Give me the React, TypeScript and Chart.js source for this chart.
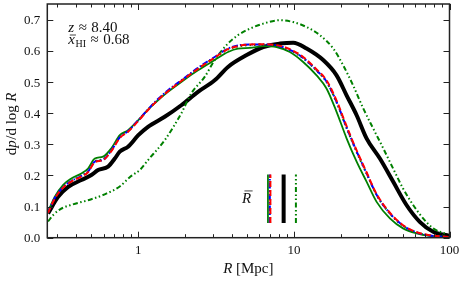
import React, { useEffect, useRef } from "react";
import { Chart, registerables } from "chart.js";
Chart.register(...registerables);

const FONT = "'Liberation Serif', 'Times New Roman', serif";

// ---- data ----
const R_CLUSTER = [0.263, 0.29, 0.328, 0.371, 0.43, 0.475, 0.525, 0.593, 0.671, 0.76, 0.859, 1.0, 1.154, 1.338, 1.552, 1.888, 2.418, 3.095, 3.77, 4.37, 5.21, 6.35, 7.74, 9.42, 11.47, 13.99, 16.2, 18.8, 21.8, 25.3, 29.3, 34.0, 41.4, 50.3, 61.4, 74.7, 100];
const V_GREEN = [0.083, 0.131, 0.169, 0.19, 0.206, 0.222, 0.254, 0.26, 0.287, 0.329, 0.345, 0.377, 0.411, 0.441, 0.468, 0.5, 0.537, 0.57, 0.596, 0.607, 0.609, 0.615, 0.612, 0.596, 0.564, 0.521, 0.479, 0.404, 0.319, 0.244, 0.18, 0.115, 0.062, 0.03, 0.014, 0.006, 0.002];
const V_RED = [0.08, 0.125, 0.16, 0.18, 0.196, 0.21, 0.242, 0.249, 0.278, 0.32, 0.34, 0.375, 0.41, 0.442, 0.47, 0.503, 0.542, 0.578, 0.605, 0.615, 0.62, 0.621, 0.618, 0.605, 0.58, 0.54, 0.505, 0.44, 0.358, 0.28, 0.21, 0.14, 0.08, 0.04, 0.018, 0.008, 0.002];
const V_BLUE = [0.081, 0.127, 0.162, 0.182, 0.198, 0.212, 0.244, 0.25, 0.28, 0.322, 0.342, 0.377, 0.412, 0.445, 0.473, 0.505, 0.545, 0.58, 0.607, 0.617, 0.62, 0.62, 0.617, 0.603, 0.577, 0.537, 0.501, 0.436, 0.354, 0.277, 0.207, 0.138, 0.078, 0.039, 0.017, 0.007, 0.002];
const V_GREEN_DOT = [0.081, 0.128, 0.163, 0.183, 0.199, 0.213, 0.245, 0.252, 0.281, 0.323, 0.342, 0.376, 0.411, 0.443, 0.471, 0.503, 0.543, 0.578, 0.604, 0.614, 0.618, 0.619, 0.616, 0.602, 0.576, 0.536, 0.5, 0.434, 0.352, 0.275, 0.206, 0.137, 0.077, 0.038, 0.017, 0.007, 0.002];

const R_BLACK = [0.263, 0.305, 0.354, 0.43, 0.499, 0.551, 0.639, 0.706, 0.76, 0.859, 1.0, 1.154, 1.478, 1.888, 2.418, 3.095, 3.77, 4.97, 6.35, 8.13, 9.9, 12.07, 15.42, 18.8, 21.8, 25.3, 29.3, 35.7, 43.4, 52.9, 64.4, 78.5, 100];
const V_BLACK = [0.078, 0.131, 0.163, 0.185, 0.201, 0.217, 0.228, 0.254, 0.276, 0.292, 0.329, 0.356, 0.388, 0.425, 0.468, 0.505, 0.548, 0.586, 0.612, 0.623, 0.626, 0.607, 0.57, 0.521, 0.457, 0.393, 0.319, 0.254, 0.18, 0.105, 0.051, 0.019, 0.006];

const R_DASHDOT = [0.263, 0.284, 0.314, 0.38, 0.489, 0.627, 0.763, 0.884, 1.025, 1.154, 1.478, 1.888, 2.19, 2.67, 3.095, 3.77, 4.37, 4.97, 6.35, 8.13, 9.9, 12.07, 14.69, 17.9, 20.7, 24.0, 27.9, 32.3, 37.5, 43.4, 50.3, 58.4, 67.7, 78.5, 95.7];
const V_DASHDOT = [0.052, 0.073, 0.091, 0.107, 0.122, 0.142, 0.165, 0.195, 0.218, 0.249, 0.313, 0.399, 0.463, 0.516, 0.57, 0.623, 0.65, 0.666, 0.687, 0.698, 0.692, 0.676, 0.65, 0.607, 0.554, 0.489, 0.415, 0.351, 0.287, 0.222, 0.158, 0.105, 0.062, 0.03, 0.011];

// mean radii R-bar for each model
const RBAR_GREEN = 6.81;
const RBAR_RED = 7.06;
const RBAR_BLUE = 7.0;
const RBAR_GREEN_DOT = 7.03;
const RBAR_BLACK = 8.59;
const RBAR_DASHDOT = 10.3;
const RBAR_Y = [0.047, 0.203];

const X_MAJOR = [1, 10, 100];
const X_MINOR = [0.3, 0.4, 0.5, 0.6, 0.7, 0.8, 0.9, 2, 3, 4, 5, 6, 7, 8, 9, 20, 30, 40, 50, 60, 70, 80, 90];
const Y_TICKS = [0, 0.1, 0.2, 0.3, 0.4, 0.5, 0.6, 0.7];
const X_RANGE = [0.26, 100];
const Y_RANGE = [0, 0.75];

const Z_TEXT = "8.40";
const XHI_TEXT = "0.68";

type Series = { xs: number[]; ys: number[]; rbar: number; color: string; width: number; dash: number[] };

const SERIES: Series[] = [
  { xs: R_CLUSTER, ys: V_RED, rbar: RBAR_RED, color: "#ff0000", width: 2, dash: [6, 3] },
  { xs: R_CLUSTER, ys: V_BLUE, rbar: RBAR_BLUE, color: "#0000ff", width: 2, dash: [6, 2, 1.5, 2] },
  { xs: R_CLUSTER, ys: V_GREEN_DOT, rbar: RBAR_GREEN_DOT, color: "#008000", width: 2, dash: [1.5, 3] },
  { xs: R_CLUSTER, ys: V_GREEN, rbar: RBAR_GREEN, color: "#008000", width: 1.8, dash: [] },
  { xs: R_DASHDOT, ys: V_DASHDOT, rbar: RBAR_DASHDOT, color: "#008000", width: 2, dash: [5, 2.5, 1.5, 2.5, 1.5, 2.5] },
  { xs: R_BLACK, ys: V_BLACK, rbar: RBAR_BLACK, color: "#000000", width: 4, dash: [] },
];

type Run = { t: string; f: string; dy?: number; gap?: number };

function runsWidth(ctx: CanvasRenderingContext2D, runs: Run[]) {
  let w = 0;
  for (const r of runs) {
    ctx.font = r.f;
    w += ctx.measureText(r.t).width + (r.gap || 0);
  }
  return w;
}
function drawRuns(ctx: CanvasRenderingContext2D, runs: Run[], x: number, y: number) {
  let cx = x;
  const pos: number[] = [];
  for (const r of runs) {
    ctx.font = r.f;
    pos.push(cx);
    ctx.fillText(r.t, cx, y + (r.dy || 0));
    cx += ctx.measureText(r.t).width + (r.gap || 0);
  }
  return pos;
}

const TICK_SIZE = 13;

const decor = {
  id: "decor",
  afterDraw(chart: any) {
    const { ctx, chartArea: a, scales } = chart;
    const x = scales.x, y = scales.y;
    ctx.save();
    ctx.strokeStyle = "#222";
    ctx.lineWidth = 1;
    const seg = (x1: number, y1: number, x2: number, y2: number) => {
      ctx.beginPath();
      ctx.moveTo(x1, y1);
      ctx.lineTo(x2, y2);
      ctx.stroke();
    };
    X_MAJOR.forEach((v) => {
      const p = Math.round(x.getPixelForValue(v)) + 0.5;
      seg(p, a.bottom, p, a.bottom - 6);
      seg(p, a.top, p, a.top + 6);
    });
    X_MINOR.forEach((v) => {
      const p = Math.round(x.getPixelForValue(v)) + 0.5;
      seg(p, a.bottom, p, a.bottom - 3.5);
      seg(p, a.top, p, a.top + 3.5);
    });
    Y_TICKS.forEach((v) => {
      const p = Math.round(y.getPixelForValue(v)) + 0.5;
      seg(a.left, p, a.left + 6, p);
      seg(a.right, p, a.right - 6, p);
    });
    ctx.lineWidth = 1.5;
    ctx.strokeRect(a.left, a.top, a.right - a.left, a.bottom - a.top);

    // texts
    ctx.fillStyle = "#111";
    ctx.textBaseline = "alphabetic";
    ctx.textAlign = "left";
    const it = (s: number) => `italic ${s}px ${FONT}`;
    const rm = (s: number) => `${s}px ${FONT}`;
    const tx = a.left + 21;
    drawRuns(ctx, [
      { t: "z", f: it(15), gap: 4.5 },
      { t: "≈", f: rm(15), gap: 4.5 },
      { t: Z_TEXT, f: rm(15) },
    ], tx, a.top + 28);
    const p2 = drawRuns(ctx, [
      { t: "x", f: it(15), gap: 0.5 },
      { t: "HI", f: rm(10), dy: 2.5, gap: 4.5 },
      { t: "≈", f: rm(15), gap: 4.5 },
      { t: XHI_TEXT, f: rm(15) },
    ], tx, a.top + 40);
    ctx.font = it(15);
    const xw = ctx.measureText("x").width;
    ctx.lineWidth = 0.8;
    ctx.strokeStyle = "#111";
    seg(p2[0] + 1.5, a.top + 31, p2[0] + xw + 1, a.top + 31);

    // R-bar label
    const rbLeft = x.getPixelForValue(RBAR_GREEN) - 26;
    const rbBase = y.getPixelForValue(0.11);
    ctx.font = it(15);
    ctx.fillText("R", rbLeft, rbBase);
    const rw = ctx.measureText("R").width;
    seg(rbLeft + 2.5, rbBase - 12.5, rbLeft + rw + 1.5, rbBase - 12.5);

    // x title
    const xt: Run[] = [
      { t: "R", f: it(15), gap: 3.5 },
      { t: "[Mpc]", f: rm(15) },
    ];
    const xtw = runsWidth(ctx, xt);
    drawRuns(ctx, xt, (a.left + a.right) / 2 - xtw / 2, a.bottom + 35);

    // y title (rotated)
    const yt: Run[] = [
      { t: "d", f: rm(15) },
      { t: "p", f: it(15), gap: 0.5 },
      { t: "/d log", f: rm(15), gap: 3.5 },
      { t: "R", f: it(15) },
    ];
    const ytw = runsWidth(ctx, yt);
    ctx.save();
    ctx.translate(16, (a.top + a.bottom) / 2 + 3);
    ctx.rotate(-Math.PI / 2);
    drawRuns(ctx, yt, -ytw / 2, 0);
    ctx.restore();

    // tick labels
    ctx.font = rm(TICK_SIZE);
    ctx.fillStyle = "#111";
    ctx.textAlign = "right";
    ctx.textBaseline = "alphabetic";
    Y_TICKS.forEach((v) => {
      ctx.fillText(v.toFixed(1), a.left - 7, y.getPixelForValue(v) + 4.6);
    });
    ctx.textAlign = "center";
    X_MAJOR.forEach((v) => {
      ctx.fillText(String(v), x.getPixelForValue(v), a.bottom + 16);
    });
    ctx.restore();
  },
};

export default function App() {
  const ref = useRef<HTMLCanvasElement>(null);
  useEffect(() => {
    if (!ref.current) return;
    const datasets: any[] = [];
    SERIES.forEach((s) => {
      datasets.push({
        data: s.xs.map((v, i) => ({ x: v, y: s.ys[i] })),
        borderColor: s.color,
        borderWidth: s.width,
        borderDash: s.dash,
        pointRadius: 0,
        fill: false,
        cubicInterpolationMode: "monotone",
      });
    });
    SERIES.forEach((s) => {
      datasets.push({
        data: RBAR_Y.map((v) => ({ x: s.rbar, y: v })),
        borderColor: s.color,
        borderWidth: s.width,
        borderDash: s.dash,
        pointRadius: 0,
        fill: false,
        tension: 0,
      });
    });
    const chart = new Chart(ref.current, {
      type: "line",
      data: { datasets },
      plugins: [decor],
      options: {
        animation: false,
        responsive: false,
        devicePixelRatio: 1,
        layout: { padding: { left: 0, right: 13.5, top: 4, bottom: 0 } },
        plugins: { legend: { display: false }, tooltip: { enabled: false } },
        scales: {
          x: {
            type: "logarithmic",
            min: X_RANGE[0],
            max: X_RANGE[1],
            grid: { display: false, drawTicks: false },
            border: { display: false },
            ticks: { display: false },
            afterFit: (s: any) => {
              s.height = 43.3;
              s.paddingLeft = 0;
              s.paddingRight = 0;
            },
          },
          y: {
            type: "linear",
            min: Y_RANGE[0],
            max: Y_RANGE[1],
            grid: { display: false, drawTicks: false },
            border: { display: false },
            ticks: { display: false, stepSize: 0.1 },
            afterFit: (s: any) => {
              s.width = 47.3;
              s.paddingTop = 0;
              s.paddingBottom = 0;
            },
          },
        },
      } as any,
    });
    return () => chart.destroy();
  }, []);
  return (
    <div style={{ position: "absolute", left: 0, top: 0, width: 463, height: 281, background: "#fff" }}>
      <canvas ref={ref} width={463} height={281} style={{ display: "block" }} />
    </div>
  );
}
